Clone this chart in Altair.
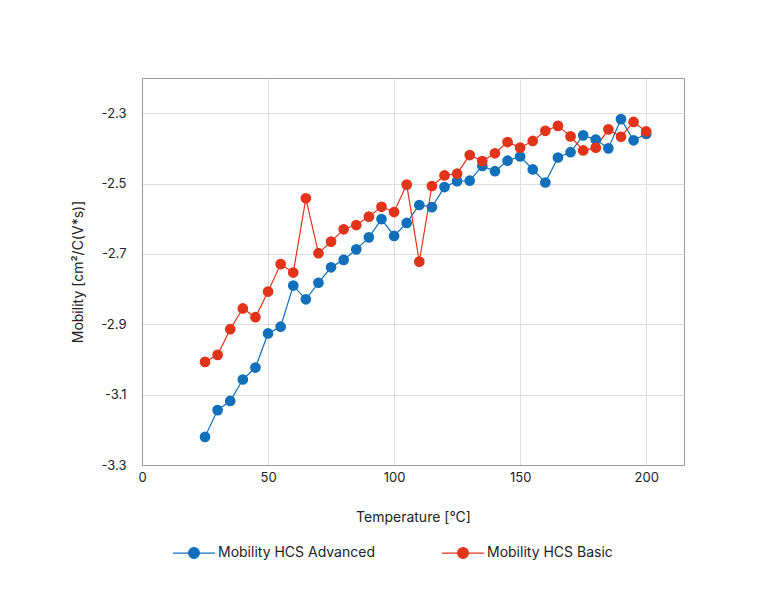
import altair as alt
import pandas as pd

temps = [25, 30, 35, 40, 45, 50, 55, 60, 65, 70, 75, 80, 85, 90, 95, 100, 105, 110,
         115, 120, 125, 130, 135, 140, 145, 150, 155, 160, 165, 170, 175, 180, 185, 190, 195, 200]
advanced = [-3.220, -3.144, -3.118, -3.057, -3.023, -2.926, -2.907, -2.790, -2.829, -2.782,
            -2.738, -2.717, -2.687, -2.653, -2.601, -2.649, -2.612, -2.561,
            -2.567, -2.510, -2.493, -2.492, -2.450, -2.465, -2.435, -2.423, -2.460, -2.497,
            -2.426, -2.411, -2.363, -2.375, -2.400, -2.317, -2.377, -2.359]
basic = [-3.007, -2.987, -2.914, -2.855, -2.880, -2.807, -2.729, -2.753, -2.542, -2.698,
         -2.665, -2.630, -2.618, -2.594, -2.566, -2.581, -2.503, -2.722,
         -2.507, -2.477, -2.472, -2.419, -2.436, -2.414, -2.382, -2.398, -2.379, -2.350,
         -2.336, -2.366, -2.406, -2.398, -2.346, -2.367, -2.325, -2.352]
series_names = ["Mobility HCS Advanced", "Mobility HCS Basic"]
colors = ["#1170B9", "#E2341B"]

rows = []
for t, a, b in zip(temps, advanced, basic):
    rows.append({"T": t, "v": a, "s": series_names[0]})
    rows.append({"T": t, "v": b, "s": series_names[1]})
df = pd.DataFrame(rows)

FONT = "Inter"
color = alt.Color("s:N", scale=alt.Scale(domain=series_names, range=colors),
                  legend=alt.Legend(
                      title=None, orient="none", legendX=45, legendY=468,
                      direction="horizontal", columns=2, columnPadding=64,
                      symbolType="M-3.5,0H3.5M-0.9,0A0.9,0.9 0 1,0 0.9,0A0.9,0.9 0 1,0 -0.9,0Z",
                      symbolSize=144, symbolStrokeWidth=1.2, symbolOffset=0,
                      labelOffset=17, labelFont=FONT, labelFontSize=14,
                      labelColor="#222222", labelLimit=300))

x = alt.X("T:Q", title="Temperature [°C]",
          scale=alt.Scale(domain=[0, 215], nice=False),
          axis=alt.Axis(values=[0, 50, 100, 150, 200], grid=True, ticks=False,
                        labelFlush=False, labelPadding=6, titlePadding=26))
y = alt.Y("v:Q", title="Mobility [cm²/C(V*s)]",
          scale=alt.Scale(domain=[-3.3, -2.2], nice=False),
          axis=alt.Axis(values=[-3.3, -3.1, -2.9, -2.7, -2.5, -2.3], grid=True, ticks=False,
                        labelFlush=False, labelPadding=16, titlePadding=15,
                        labelExpr="replace(format(datum.value, '.1f'), '\u2212', '-')"))

lines = alt.Chart(df).mark_line(strokeWidth=1.2).encode(x=x, y=y, color=color)
points = alt.Chart(df).mark_circle(size=115, opacity=1).encode(
    x=x, y=y,
    color=alt.Color("s:N", scale=alt.Scale(domain=series_names, range=colors), legend=None))

chart = alt.layer(lines, points).properties(
    width=542, height=387,
    autosize=alt.AutoSizeParams(type="none"),
    padding={"left": 134, "top": 70, "right": 70, "bottom": 130},
).configure_view(stroke="#9a9a9a", strokeWidth=1).configure_axis(
    domainColor="#9a9a9a", gridColor="#dddddd", labelFont=FONT, titleFont=FONT,
    labelFontSize=13, titleFontSize=14, labelColor="#222222", titleColor="#222222",
    titleFontWeight="normal"
)

chart.save("out.html", embed_options={"renderer": "svg", "actions": False})
